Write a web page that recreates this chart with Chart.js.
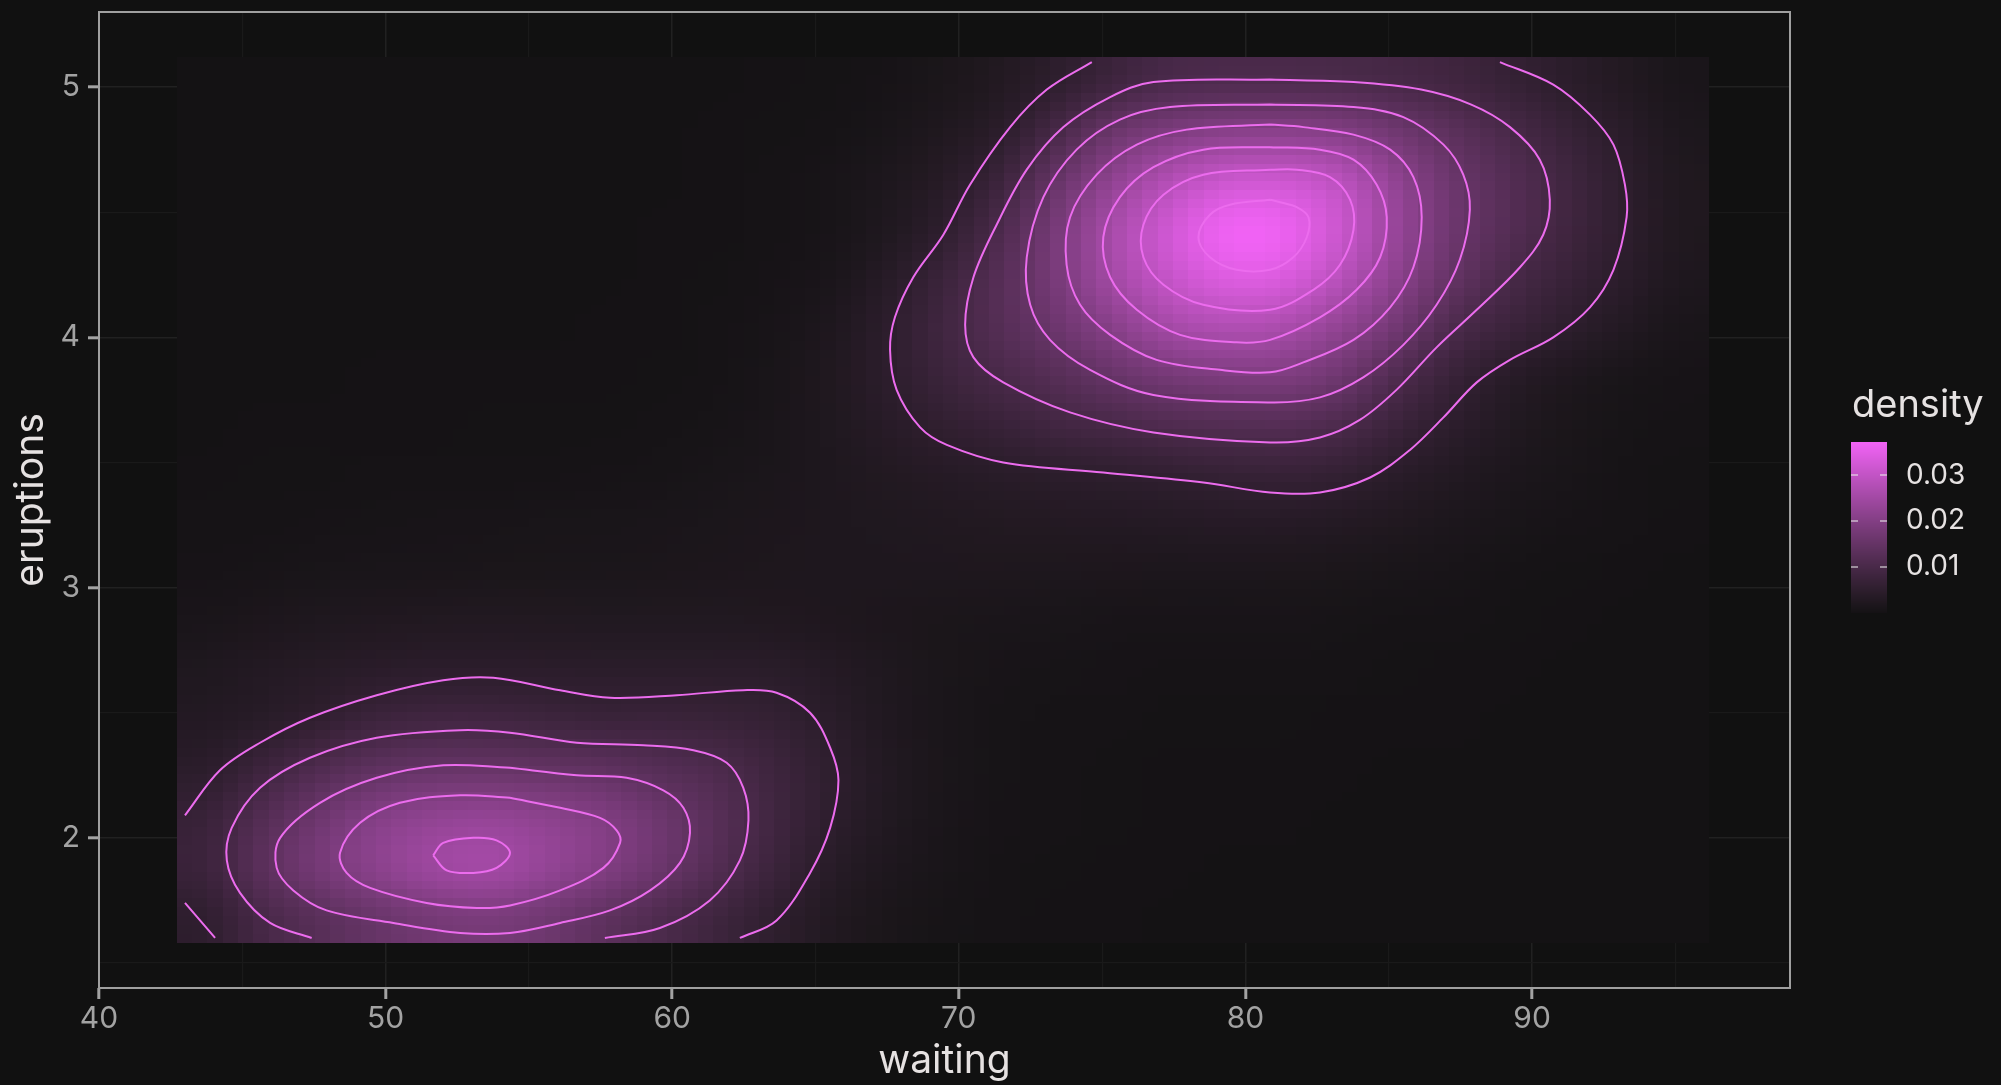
<!DOCTYPE html>
<html>
<head>
<meta charset="utf-8">
<script src="https://cdn.jsdelivr.net/npm/chart.js@4.4.1/dist/chart.umd.min.js"></script>
<style>
  html, body { margin: 0; padding: 0; background: #111111; }
  canvas { display: block; }
</style>
</head>
<body>
<canvas id="densityChart" width="2001" height="1085"></canvas>
<script>
// cell centres of the density raster
var gridWaiting = [43.7, 45.7, 47.7, 49.6, 51.6, 53.6, 55.6, 57.6, 59.6, 61.5, 63.5, 65.5, 67.5, 69.5,
                   71.4, 73.4, 75.4, 77.4, 79.4, 81.3, 83.3, 85.3, 87.3, 89.3, 91.3, 93.2, 95.2];
var gridEruptions = [1.68, 1.88, 2.07, 2.27, 2.47, 2.66, 2.86, 3.06, 3.25, 3.45, 3.65, 3.84, 4.04, 4.24,
                     4.43, 4.63, 4.83, 5.02];

// estimated density, in thousandths, one row per eruptions value (bottom row first)
var densityRows = [
  [5.2, 9.8, 12.7, 15.4, 17.5, 18.3, 16.8, 13.8, 10.9, 8.1, 5.3, 2.7, 1.3, 0.6, 0.3, 0.1, 0.1, 0, 0, 0, 0, 0, 0, 0, 0, 0, 0],
  [7.5, 13.5, 18.1, 21.5, 24.6, 25.6, 23.0, 20.0, 16.2, 11.9, 7.7, 4.0, 2.0, 0.9, 0.4, 0.2, 0.1, 0.1, 0, 0, 0, 0, 0, 0, 0, 0, 0],
  [7.0, 12.1, 16.7, 20.6, 22.6, 23.3, 22.0, 20.0, 16.6, 12.7, 8.6, 5.2, 2.6, 1.2, 0.5, 0.3, 0.2, 0.1, 0.1, 0.1, 0, 0, 0, 0, 0, 0, 0],
  [4.5, 8.0, 11.5, 14.2, 15.4, 15.5, 15.0, 14.4, 12.5, 11.0, 8.1, 5.3, 2.8, 1.3, 0.6, 0.3, 0.2, 0.1, 0.1, 0.1, 0.1, 0, 0, 0, 0, 0, 0],
  [3.0, 4.0, 5.6, 7.9, 8.9, 8.9, 8.1, 7.4, 7.5, 7.1, 6.3, 4.4, 2.4, 1.2, 0.6, 0.4, 0.3, 0.2, 0.2, 0.2, 0.1, 0.1, 0.1, 0, 0, 0, 0],
  [2.2, 3.0, 3.7, 4.3, 4.7, 4.8, 4.6, 4.5, 4.5, 4.6, 4.4, 3.4, 2.2, 1.3, 0.8, 0.6, 0.5, 0.4, 0.4, 0.3, 0.3, 0.2, 0.1, 0.1, 0.05, 0, 0],
  [1.2, 1.7, 2.2, 2.5, 2.7, 2.8, 2.7, 2.6, 2.6, 2.6, 2.5, 2.1, 1.7, 1.3, 1.1, 0.9, 0.8, 0.8, 0.7, 0.7, 0.6, 0.4, 0.3, 0.2, 0.1, 0.05, 0],
  [0.5, 0.7, 0.9, 1.1, 1.2, 1.3, 1.3, 1.4, 1.5, 1.7, 1.9, 2.0, 2.0, 2.0, 1.9, 1.8, 1.7, 1.6, 1.6, 1.5, 1.3, 1.0, 0.7, 0.4, 0.2, 0.1, 0.05],
  [0.3, 0.4, 0.5, 0.6, 0.7, 0.8, 0.9, 1.0, 1.2, 1.4, 1.7, 2.0, 2.2, 2.5, 2.7, 2.9, 3.0, 3.2, 3.4, 3.4, 3.0, 2.3, 1.6, 0.9, 0.5, 0.3, 0.1],
  [0.15, 0.2, 0.25, 0.3, 0.35, 0.4, 0.45, 0.5, 0.6, 0.9, 1.4, 2.0, 2.7, 3.4, 4.0, 4.5, 4.9, 5.5, 6.2, 6.6, 5.9, 4.2, 2.8, 1.6, 0.9, 0.4, 0.2],
  [0.05, 0.1, 0.1, 0.15, 0.15, 0.2, 0.2, 0.25, 0.35, 0.6, 1.2, 2.2, 3.8, 5.6, 7.0, 8.6, 9.8, 11.1, 11.7, 12.1, 10.6, 7.4, 4.7, 2.6, 1.3, 0.6, 0.3],
  [0, 0.05, 0.05, 0.1, 0.1, 0.1, 0.1, 0.15, 0.2, 0.4, 1.0, 2.3, 4.8, 7.6, 10.1, 12.4, 15.2, 17.7, 18.9, 19.3, 16.6, 11.0, 6.9, 3.8, 2.0, 1.0, 0.5],
  [0, 0, 0.05, 0.05, 0.05, 0.05, 0.05, 0.1, 0.15, 0.3, 0.8, 2.0, 4.8, 8.6, 12.2, 16.2, 20.9, 25.5, 27.3, 26.3, 22.1, 17.1, 10.4, 7.5, 4.9, 2.8, 1.2],
  [0, 0, 0, 0, 0, 0.05, 0.05, 0.05, 0.1, 0.2, 0.5, 1.2, 3.6, 7.6, 12.4, 18.4, 25.3, 30.8, 34.2, 33.8, 28.5, 21.3, 14.6, 9.9, 7.0, 4.3, 2.0],
  [0, 0, 0, 0, 0, 0, 0.05, 0.05, 0.1, 0.15, 0.4, 0.8, 2.2, 5.0, 10.7, 18.3, 26.2, 32.5, 37.2, 36.8, 31.6, 23.3, 16.2, 12.0, 8.4, 5.1, 2.3],
  [0, 0, 0, 0, 0, 0, 0, 0.05, 0.05, 0.1, 0.3, 0.7, 1.8, 3.7, 7.6, 15.4, 22.3, 28.0, 31.5, 31.8, 29.3, 22.1, 15.9, 12.1, 8.5, 5.0, 2.3],
  [0, 0, 0, 0, 0, 0, 0, 0, 0.05, 0.1, 0.2, 0.4, 1.0, 2.3, 4.4, 9.7, 16.0, 19.1, 20.7, 20.9, 20.0, 16.7, 13.3, 10.0, 6.9, 4.1, 1.8],
  [0, 0, 0, 0, 0, 0, 0, 0, 0, 0.05, 0.1, 0.2, 0.5, 1.3, 2.7, 4.9, 8.0, 10.2, 10.6, 10.6, 10.3, 9.6, 8.4, 6.5, 4.5, 2.7, 1.2]
];

// contour lines (waiting, eruptions), levels 0.005 ... 0.035
var upper005 = [[74.64,5.10],[73.07,4.99],[71.79,4.84],[70.39,4.61],[69.46,4.41],[68.41,4.24],[67.77,4.08],[67.60,3.95],[67.83,3.79],[68.65,3.64],[69.58,3.57],[71.55,3.50],[75.04,3.46],[78.53,3.42],[80.86,3.38],[82.60,3.38],[84.35,3.44],[85.74,3.55],[86.91,3.68],[88.07,3.82],[89.23,3.91],[90.74,4.00],[92.02,4.12],[92.84,4.27],[93.30,4.48],[93.24,4.61],[92.84,4.77],[92.02,4.89],[90.74,5.01],[88.88,5.10]];
var upper010 = [[80.86,5.03],[76.79,5.02],[75.28,4.96],[73.65,4.84],[72.37,4.67],[71.32,4.45],[70.51,4.24],[70.22,4.05],[70.51,3.92],[71.55,3.82],[73.88,3.70],[76.79,3.62],[80.86,3.58],[82.60,3.60],[83.99,3.67],[85.27,3.79],[86.67,3.96],[88.07,4.11],[89.58,4.28],[90.39,4.41],[90.62,4.55],[90.27,4.71],[89.23,4.84],[87.88,4.93],[86.13,4.99],[83.77,5.02],[80.86,5.03]];
var upper015 = [[80.86,4.93],[77.37,4.92],[75.62,4.87],[74.11,4.75],[72.95,4.56],[72.37,4.32],[72.49,4.13],[73.18,3.99],[74.58,3.87],[76.79,3.77],[80.86,3.74],[82.60,3.76],[84.11,3.84],[85.51,3.97],[86.67,4.13],[87.48,4.31],[87.83,4.51],[87.60,4.65],[86.91,4.77],[85.51,4.88],[83.77,4.92],[80.86,4.93]];
var upper020 = [[80.86,4.85],[77.95,4.83],[76.21,4.77],[74.81,4.65],[73.88,4.48],[73.76,4.29],[74.23,4.13],[75.28,4.01],[76.90,3.91],[79.11,3.87],[80.86,3.86],[82.02,3.90],[83.77,3.99],[85.05,4.12],[85.86,4.28],[86.15,4.48],[85.86,4.64],[85.05,4.75],[83.77,4.81],[82.02,4.84],[80.86,4.85]];
var upper025 = [[80.86,4.76],[78.53,4.75],[76.79,4.68],[75.62,4.56],[75.04,4.40],[75.28,4.24],[76.21,4.11],[77.72,4.01],[79.69,3.98],[80.86,3.99],[82.60,4.08],[83.88,4.19],[84.70,4.32],[84.93,4.48],[84.58,4.61],[83.77,4.71],[82.60,4.75],[80.86,4.76]];
var upper030 = [[80.86,4.67],[78.53,4.65],[77.14,4.57],[76.44,4.45],[76.44,4.32],[77.14,4.21],[78.53,4.13],[80.86,4.11],[82.37,4.19],[83.30,4.29],[83.77,4.43],[83.65,4.55],[82.95,4.64],[81.79,4.67],[80.86,4.67]];
var upper035 = [[80.86,4.55],[79.46,4.53],[78.76,4.49],[78.36,4.40],[78.76,4.32],[79.69,4.27],[80.86,4.27],[81.67,4.32],[82.14,4.40],[82.20,4.48],[81.79,4.52],[81.21,4.54],[80.86,4.55]];
var lower005 = [[43.00,2.09],[44.22,2.27],[45.62,2.38],[47.36,2.48],[49.69,2.57],[52.01,2.63],[53.76,2.64],[56.09,2.59],[57.83,2.56],[60.16,2.57],[62.48,2.59],[63.64,2.58],[64.81,2.50],[65.51,2.36],[65.80,2.23],[65.51,2.04],[64.81,1.86],[63.64,1.67],[62.36,1.60]];
var lower005corner = [[43.00,1.74],[44.05,1.60]];
var lower010 = [[47.42,1.60],[45.97,1.66],[44.92,1.78],[44.46,1.91],[44.63,2.04],[45.62,2.20],[47.36,2.32],[49.69,2.40],[52.60,2.43],[54.34,2.42],[56.67,2.38],[58.99,2.37],[60.74,2.35],[61.90,2.30],[62.48,2.20],[62.66,2.07],[62.36,1.91],[61.31,1.75],[59.57,1.64],[57.65,1.60]];
var lower015 = [[54.34,2.28],[52.01,2.29],[49.69,2.24],[47.71,2.14],[46.32,2.00],[46.20,1.88],[46.78,1.79],[47.94,1.71],[50.27,1.66],[52.60,1.62],[54.34,1.62],[56.09,1.66],[57.83,1.71],[59.23,1.79],[60.27,1.90],[60.62,2.02],[60.39,2.12],[59.69,2.19],[58.41,2.24],[56.67,2.25],[54.34,2.28]];
var lower020 = [[54.34,2.16],[52.60,2.17],[50.50,2.14],[49.11,2.06],[48.41,1.94],[48.64,1.86],[49.46,1.80],[51.43,1.74],[53.18,1.72],[54.34,1.73],[56.09,1.79],[57.60,1.88],[58.18,1.98],[58.06,2.03],[57.48,2.08],[56.09,2.12],[54.34,2.16]];
var lower025 = [[51.66,1.93],[52.01,1.98],[53.06,2.00],[53.87,1.99],[54.34,1.94],[53.87,1.88],[53.06,1.86],[52.13,1.87],[51.66,1.93]];

var legendTicks = [0.01, 0.02, 0.03];
var legendLabels = ['0.01', '0.02', '0.03'];

var FONT = 'Inter, "Noto Sans", sans-serif';
var LOW = [20, 18, 20], HIGH = [242, 99, 246];

// ggplot-like gradient, interpolated in Lab
function toLinear(c) { c /= 255; return c <= 0.04045 ? c / 12.92 : Math.pow((c + 0.055) / 1.055, 2.4); }
function toSrgb(c) {
    var v = c <= 0.0031308 ? 12.92 * c : 1.055 * Math.pow(c, 1 / 2.4) - 0.055;
    return Math.round(Math.max(0, Math.min(1, v)) * 255);
}
function labF(t) { return t > 0.008856 ? Math.cbrt(t) : 7.787 * t + 16 / 116; }
function labFi(t) { return t > 0.206893 ? t * t * t : (t - 16 / 116) / 7.787; }
function rgbToLab(rgb) {
    var r = toLinear(rgb[0]), g = toLinear(rgb[1]), b = toLinear(rgb[2]);
    var x = (0.4124 * r + 0.3576 * g + 0.1805 * b) / 0.95047;
    var y = 0.2126 * r + 0.7152 * g + 0.0722 * b;
    var z = (0.0193 * r + 0.1192 * g + 0.9505 * b) / 1.08883;
    var fx = labF(x), fy = labF(y), fz = labF(z);
    return [116 * fy - 16, 500 * (fx - fy), 200 * (fy - fz)];
}
function labToRgb(lab) {
    var fy = (lab[0] + 16) / 116, fx = fy + lab[1] / 500, fz = fy - lab[2] / 200;
    var x = labFi(fx) * 0.95047, y = labFi(fy), z = labFi(fz) * 1.08883;
    var r = 3.2406 * x - 1.5372 * y - 0.4986 * z;
    var g = -0.9689 * x + 1.8758 * y + 0.0415 * z;
    var b = 0.0557 * x - 0.2040 * y + 1.0570 * z;
    return [toSrgb(r), toSrgb(g), toSrgb(b)];
}
var lowLab = rgbToLab(LOW), highLab = rgbToLab(HIGH);

var densityMax = 0;
densityRows.forEach(function (row) { row.forEach(function (v) { densityMax = Math.max(densityMax, v / 1000); }); });

function densityColor(v) {
    var t = Math.max(0, Math.min(1, v / densityMax));
    return labToRgb([0, 1, 2].map(function (k) { return lowLab[k] + (highLab[k] - lowLab[k]) * t; }));
}

var rasterPlugin = {
    id: 'densityRaster',
    beforeDatasetsDraw: function (chart) {
        var xs = chart.scales.x, ys = chart.scales.y, ctx = chart.ctx;
        var nx = gridWaiting.length, ny = gridEruptions.length;
        var dx = (gridWaiting[nx - 1] - gridWaiting[0]) / (nx - 1);
        var dy = (gridEruptions[ny - 1] - gridEruptions[0]) / (ny - 1);

        var small = document.createElement('canvas');
        small.width = nx; small.height = ny;
        var sctx = small.getContext('2d');
        var img = sctx.createImageData(nx, ny);
        for (var j = 0; j < ny; j++) {
            for (var i = 0; i < nx; i++) {
                var c = densityColor(densityRows[j][i] / 1000);
                var k = ((ny - 1 - j) * nx + i) * 4;
                img.data[k] = c[0]; img.data[k + 1] = c[1]; img.data[k + 2] = c[2]; img.data[k + 3] = 255;
            }
        }
        sctx.putImageData(img, 0, 0);

        var raster = document.createElement('canvas');
        raster.width = 100; raster.height = 100;
        var rctx = raster.getContext('2d');
        rctx.imageSmoothingEnabled = true;
        rctx.imageSmoothingQuality = 'high';
        rctx.drawImage(small, 0, 0, 100, 100);

        var left = xs.getPixelForValue(gridWaiting[0] - dx / 2);
        var right = xs.getPixelForValue(gridWaiting[nx - 1] + dx / 2);
        var top = ys.getPixelForValue(gridEruptions[ny - 1] + dy / 2);
        var bottom = ys.getPixelForValue(gridEruptions[0] - dy / 2);
        ctx.save();
        ctx.imageSmoothingEnabled = false;
        ctx.drawImage(raster, left, top, right - left, bottom - top);
        ctx.restore();
    }
};

var frameAndLegendPlugin = {
    id: 'frameAndLegend',
    afterDraw: function (chart) {
        var ctx = chart.ctx, a = chart.chartArea;
        ctx.save();
        ctx.strokeStyle = '#a0a0a0';
        ctx.lineWidth = 2;
        ctx.strokeRect(a.left, a.top, a.right - a.left, a.bottom - a.top);

        // colour bar legend
        var barLeft = 1851, barWidth = 36, barTop = 442, barBottom = 613;
        ctx.fillStyle = '#e6e2e2';
        ctx.font = '38px ' + FONT;
        ctx.textAlign = 'left';
        ctx.textBaseline = 'alphabetic';
        ctx.fillText('density', 1852, 417);

        for (var py = barTop; py < barBottom; py++) {
            var v = densityMax * (barBottom - py - 0.5) / (barBottom - barTop);
            var c = densityColor(v);
            ctx.fillStyle = 'rgb(' + c[0] + ',' + c[1] + ',' + c[2] + ')';
            ctx.fillRect(barLeft, py, barWidth, 1);
        }
        ctx.font = '28px ' + FONT;
        ctx.textBaseline = 'middle';
        legendTicks.forEach(function (t, i) {
            var y = barBottom - (t / densityMax) * (barBottom - barTop);
            ctx.strokeStyle = 'rgba(235,235,235,0.7)';
            ctx.lineWidth = 1.5;
            ctx.beginPath();
            ctx.moveTo(barLeft, y); ctx.lineTo(barLeft + 7, y);
            ctx.moveTo(barLeft + barWidth - 7, y); ctx.lineTo(barLeft + barWidth, y);
            ctx.stroke();
            ctx.fillStyle = '#e6e2e2';
            ctx.fillText(legendLabels[i], 1906, y);
        });
        ctx.restore();
    }
};

var contourLines = [upper005, upper010, upper015, upper020, upper025, upper030, upper035,
                    lower005, lower005corner, lower010, lower015, lower020, lower025];

function isMajorX(c) { return c.tick && c.tick.value % 10 === 0; }
function isMajorY(c) { return c.tick && Number.isInteger(c.tick.value); }

var densityChart = new Chart(document.getElementById('densityChart'), {
    type: 'scatter',
    data: {
        datasets: contourLines.map(function (line) {
            return {
                data: line.map(function (p) { return {x: p[0], y: p[1]}; }),
                showLine: true,
                borderColor: '#ec6cee',
                borderWidth: 2,
                pointRadius: 0,
                tension: 0.35,
                fill: false
            };
        })
    },
    options: {
        responsive: false,
        devicePixelRatio: 1,
        animation: false,
        layout: { padding: { left: 0, right: 211, top: 12, bottom: 0 } },
        plugins: { legend: { display: false }, tooltip: { enabled: false } },
        scales: {
            x: {
                type: 'linear',
                min: 40,
                max: 99,
                afterFit: function (scale) {
                    scale.height = 97;
                    scale.paddingLeft = 0;
                    scale.paddingRight = 0;
                },
                ticks: {
                    stepSize: 5,
                    includeBounds: false,
                    autoSkip: false,
                    maxRotation: 0,
                    padding: 2,
                    color: '#a3a3a3',
                    font: { family: FONT, size: 30 },
                    callback: function (v) { return v % 10 === 0 ? v : ''; }
                },
                grid: {
                    color: function (c) { return isMajorX(c) ? '#212121' : '#1a1a1a'; },
                    lineWidth: function (c) { return isMajorX(c) ? 1.6 : 1.2; },
                    tickColor: function (c) { return isMajorX(c) ? '#a3a3a3' : 'rgba(0,0,0,0)'; },
                    tickWidth: 3,
                    tickLength: 11
                },
                border: { display: false },
                title: {
                    display: true,
                    text: 'waiting',
                    color: '#e6e2e2',
                    font: { family: FONT, size: 39 },
                    padding: { top: 0, bottom: 0 }
                }
            },
            y: {
                type: 'linear',
                min: 1.4,
                max: 5.3,
                afterFit: function (scale) {
                    scale.width = 99;
                    scale.paddingTop = 0;
                    scale.paddingBottom = 0;
                },
                ticks: {
                    stepSize: 0.5,
                    includeBounds: false,
                    autoSkip: false,
                    padding: 8,
                    color: '#a3a3a3',
                    font: { family: FONT, size: 30 },
                    callback: function (v) { return Number.isInteger(v) ? v : ''; }
                },
                grid: {
                    color: function (c) { return isMajorY(c) ? '#212121' : '#1a1a1a'; },
                    lineWidth: function (c) { return isMajorY(c) ? 1.6 : 1.2; },
                    tickColor: function (c) { return isMajorY(c) ? '#a3a3a3' : 'rgba(0,0,0,0)'; },
                    tickWidth: 3,
                    tickLength: 11
                },
                border: { display: false },
                title: {
                    display: true,
                    text: 'eruptions',
                    color: '#e6e2e2',
                    font: { family: FONT, size: 39 },
                    padding: { top: 8, bottom: 0 }
                }
            }
        }
    },
    plugins: [rasterPlugin, frameAndLegendPlugin]
});
</script>
</body>
</html>
